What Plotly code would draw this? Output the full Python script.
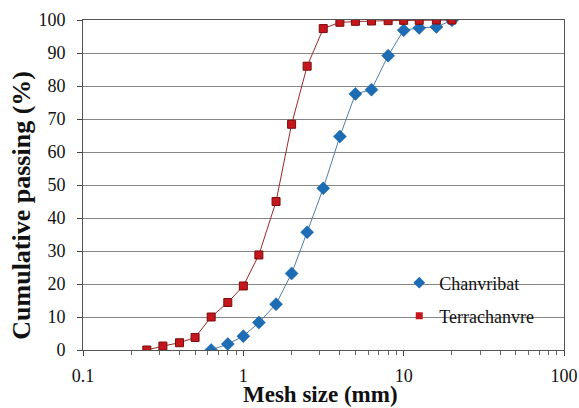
import plotly.graph_objects as go

# sieve sizes (mm) and cumulative passing (%)
mesh_chanvribat = [0.63, 0.8, 1, 1.25, 1.6, 2, 2.5, 3.15, 4, 5, 6.3, 8, 10, 12.5, 16, 20]
passing_chanvribat = [0.0, 1.8, 4.2, 8.3, 13.9, 23.2, 35.7, 49.0, 64.7, 77.6, 78.9, 89.2, 96.9, 97.6, 97.9, 99.9]

mesh_terrachanvre = [0.25, 0.315, 0.4, 0.5, 0.63, 0.8, 1, 1.25, 1.6, 2, 2.5, 3.15, 4, 5, 6.3, 8, 10, 12.5, 16, 20]
passing_terrachanvre = [0.0, 1.2, 2.2, 3.8, 10.0, 14.4, 19.4, 28.8, 45.0, 68.4, 86.0, 97.4, 99.3, 99.6, 99.7, 99.8, 99.9, 99.9, 100, 100]

y_ticks = list(range(0, 101, 10))
x_ticks = [0.1, 1, 10, 100]
x_ticklabels = ["0.1", "1", "10", "100"]

BLUE = "#1c6db5"
RED = "#c4161c"
FONT = "Liberation Serif"

fig = go.Figure()

# curves (legend handled by marker-only dummies below, like the Excel legend)
fig.add_trace(go.Scatter(
    x=mesh_chanvribat, y=passing_chanvribat, mode="lines+markers",
    line=dict(color="#4f7fa8", width=1),
    marker=dict(symbol="diamond", size=10, color=BLUE, line=dict(color="#155a96", width=0.5)),
    showlegend=False))
fig.add_trace(go.Scatter(
    x=mesh_terrachanvre, y=passing_terrachanvre, mode="lines+markers",
    line=dict(color="#9a2a2a", width=1),
    marker=dict(symbol="square", size=8, color=RED, line=dict(color="#7a0c0c", width=1)),
    showlegend=False))

fig.add_trace(go.Scatter(
    x=[None], y=[None], mode="markers", name="Chanvribat",
    marker=dict(symbol="diamond", size=9, color=BLUE), legend="legend"))
fig.add_trace(go.Scatter(
    x=[None], y=[None], mode="markers", name="Terrachanvre",
    marker=dict(symbol="square", size=7, color=RED), legend="legend2"))

legend_style = dict(font=dict(family=FONT, size=18, color="#111"), bgcolor="rgba(0,0,0,0)",
                    xanchor="left", yanchor="middle", itemwidth=30)

fig.update_layout(
    width=579, height=408,
    margin=dict(l=83, r=15, t=20, b=58),
    paper_bgcolor="white", plot_bgcolor="white",
    font=dict(family=FONT, size=18, color="#111"),
    legend=dict(x=0.6575, y=0.203, **legend_style),
    legend2=dict(x=0.6575, y=0.103, **legend_style),
    xaxis=dict(
        type="log", range=[-1, 2], automargin=False,
        tickvals=x_ticks, ticktext=x_ticklabels,
        ticks="outside", ticklen=5, tickcolor="#444", ticklabelstandoff=4,
        minor=dict(ticks="outside", ticklen=4, tickcolor="#666", dtick="D1", showgrid=False),
        showgrid=False, zeroline=False,
        showline=True, linecolor="#555", linewidth=1, mirror=True,
        tickfont=dict(family=FONT, size=18),
    ),
    yaxis=dict(
        range=[0, 100], tickvals=y_ticks, automargin=False,
        ticks="outside", ticklen=5, tickcolor="#444", ticklabelstandoff=8,
        showgrid=True, gridcolor="#858585", gridwidth=1, zeroline=False,
        showline=True, linecolor="#555", linewidth=1, mirror=True,
        tickfont=dict(family=FONT, size=18),
    ),
    annotations=[
        dict(text="<b>Mesh size (mm)</b>", xref="paper", yref="paper", x=0.493, y=-0.136,
             xanchor="center", yanchor="middle", showarrow=False,
             font=dict(family=FONT, size=23, color="#111")),
        dict(text="<b>Cumulative passing (%)</b>", xref="paper", yref="paper", x=-0.127, y=0.44,
             xanchor="center", yanchor="middle", textangle=-90, showarrow=False,
             font=dict(family=FONT, size=26, color="#111")),
    ],
)

# drop the default 8px body margin so the figure fills the window exactly
fig.write_html("out.html", config={"displayModeBar": False},
               post_script="document.body.style.margin='0';document.body.style.overflow='hidden';")
